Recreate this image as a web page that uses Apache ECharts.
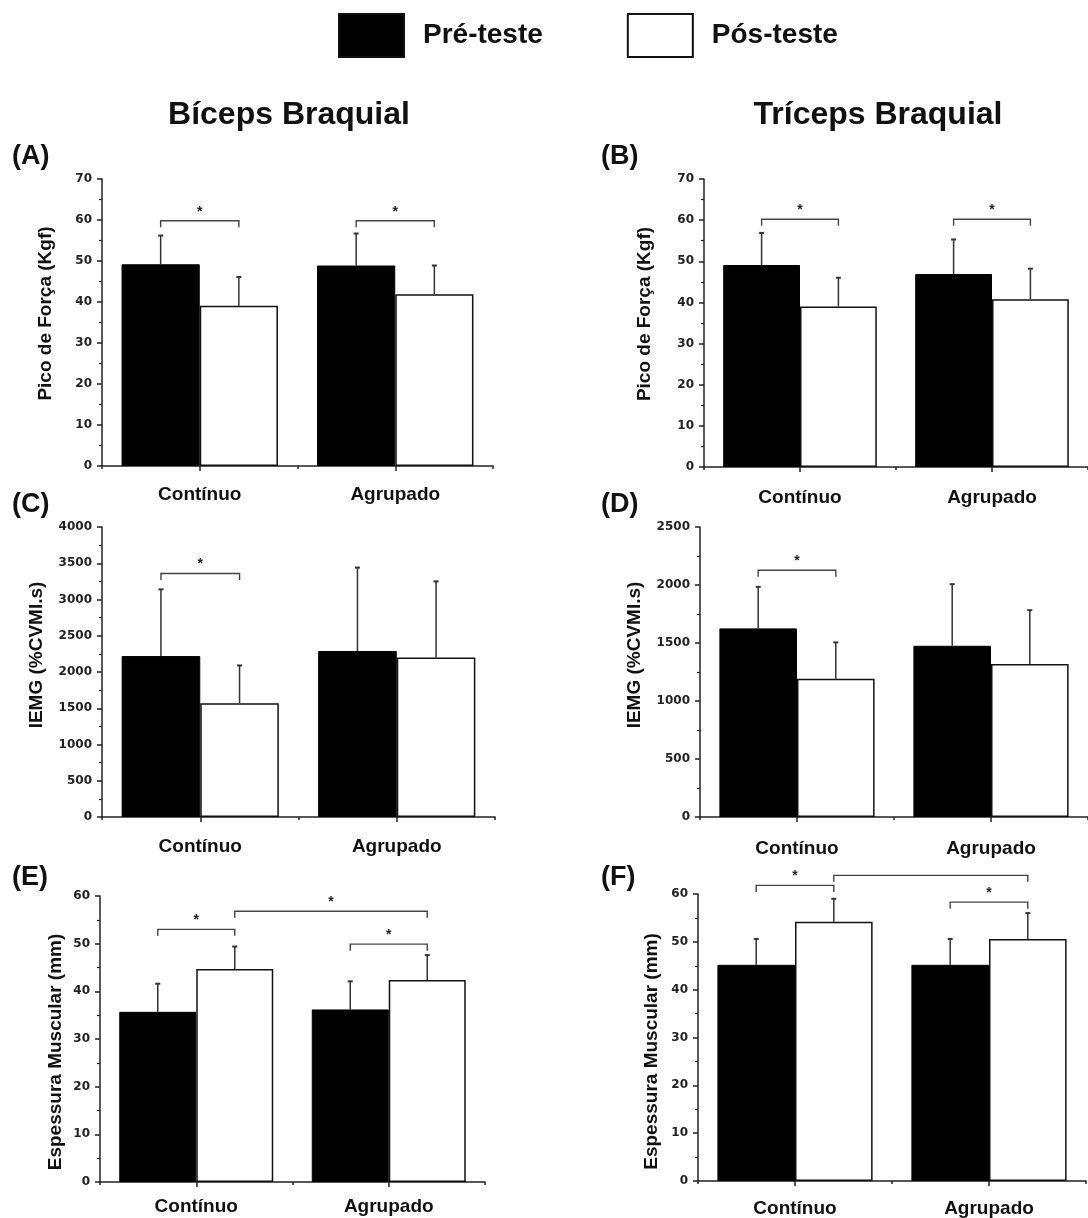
<!DOCTYPE html>
<html>
<head>
<meta charset="utf-8">
<script src="https://cdn.jsdelivr.net/npm/echarts@6/dist/echarts.min.js"></script>
<style>
html, body { margin: 0; padding: 0; background: #fff; }
#chart { width: 1088px; height: 1218px; }
</style>
</head>
<body>
<div id="chart"></div>
<script>
// ---------- data ----------
const categories = ['Contínuo', 'Agrupado'];
const seriesNames = ['Pré-teste', 'Pós-teste'];
const columnTitles = ['Bíceps Braquial', 'Tríceps Braquial'];
const panelLabels = ['(A)', '(B)', '(C)', '(D)', '(E)', '(F)'];
const yAxisNames = ['Pico de Força (Kgf)', 'Pico de Força (Kgf)', 'IEMG (%CVMI.s)', 'IEMG (%CVMI.s)', 'Espessura Muscular (mm)', 'Espessura Muscular (mm)'];
const yMax = [70, 70, 4000, 2500, 60, 60];
const yInterval = [10, 10, 500, 500, 10, 10];

// means and upper SD per panel: [Contínuo, Agrupado]
const preA = [49.2, 48.9], preErrA = [7.0, 7.8], postA = [39.1, 41.9], postErrA = [7.0, 7.0];
const preB = [49.1, 46.9], preErrB = [7.8, 8.4], postB = [39.0, 40.8], postErrB = [7.0, 7.4];
const preC = [2220, 2290], preErrC = [920, 1150], postC = [1570, 2200], postErrC = [520, 1050];
const preD = [1626, 1476], preErrD = [358, 531], postD = [1192, 1319], postErrD = [313, 464];
const preE = [35.7, 36.2], preErrE = [5.9, 5.9], postE = [44.7, 42.4], postErrE = [4.7, 5.2];
const preF = [45.2, 45.2], preErrF = [5.4, 5.4], postF = [54.2, 50.6], postErrF = [4.8, 5.4];

// significance brackets: [catFrom, seriesFrom, catTo, seriesTo, level, showStar]
const bracketsA = [[0, 0, 0, 1, 59.8, 1], [1, 0, 1, 1, 59.8, 1]];
const bracketsB = [[0, 0, 0, 1, 60.2, 1], [1, 0, 1, 1, 60.2, 1]];
const bracketsC = [[0, 0, 0, 1, 3358, 1]];
const bracketsD = [[0, 0, 0, 1, 2127, 1]];
const bracketsE = [[0, 0, 0, 1, 53.0, 1], [0, 1, 1, 1, 56.8, 1], [1, 0, 1, 1, 49.9, 1]];
const bracketsF = [[0, 0, 0, 1, 61.8, 1], [0, 1, 1, 1, 63.9, 0], [1, 0, 1, 1, 58.3, 1]];

const panels = [
  { pre: preA, preErr: preErrA, post: postA, postErr: postErrA, brackets: bracketsA },
  { pre: preB, preErr: preErrB, post: postB, postErr: postErrB, brackets: bracketsB },
  { pre: preC, preErr: preErrC, post: postC, postErr: postErrC, brackets: bracketsC },
  { pre: preD, preErr: preErrD, post: postD, postErr: postErrD, brackets: bracketsD },
  { pre: preE, preErr: preErrE, post: postE, postErr: postErrE, brackets: bracketsE },
  { pre: preF, preErr: preErrF, post: postF, postErr: postErrF, brackets: bracketsF }
];

// ---------- layout / style ----------
const grids = [
  { left: 102, top: 179, width: 391, height: 287 },
  { left: 704, top: 179, width: 388, height: 288 },
  { left: 102, top: 527, width: 393, height: 290 },
  { left: 700, top: 527, width: 393, height: 290 },
  { left: 100, top: 896, width: 385, height: 286 },
  { left: 698, top: 894, width: 388, height: 288 }
];
const xLabelMargin = [19, 21, 20, 22, 15, 18];
const yNameGap = [47, 50, 56, 56, 35, 37];
const yNamePad = [[0, 0, 0, 18], [0, 0, 0, 18], [0, 0, 0, 34], [0, 0, 0, 34], [0, 26, 0, 0], [0, 28, 0, 0]];
const labelPos = [[12, 157], [601, 157], [12, 505], [601, 505], [12, 878], [601, 878]];
const titlePos = [[289, 115], [878, 115]];

const BAR_OFF = 0.2; // bar centre offset as a fraction of the band (barGap 0, barCategoryGap 20%)
const AXIS_COLOR = '#222';
const FONT = 'Liberation Sans, Arial, sans-serif';

const gridOpt = [], xAxisOpt = [], yAxisOpt = [], seriesOpt = [];

panels.forEach((p, i) => {
  gridOpt.push(Object.assign({ containLabel: false }, grids[i]));
  xAxisOpt.push({
    type: 'category', gridIndex: i, data: categories, position: 'bottom',
    axisLine: { show: true, lineStyle: { color: AXIS_COLOR, width: 1.5 } },
    axisTick: { show: true, length: 3, lineStyle: { color: AXIS_COLOR, width: 1.5 } },
    axisLabel: { margin: xLabelMargin[i], fontSize: 19, fontWeight: 'bold', color: '#111', fontFamily: FONT },
    splitLine: { show: false }
  });
  xAxisOpt.push({
    type: 'category', gridIndex: i, data: categories, position: 'bottom',
    axisLine: { show: false },
    axisTick: { show: true, alignWithLabel: true, length: 5, lineStyle: { color: AXIS_COLOR, width: 1.5 } },
    axisLabel: { show: false },
    splitLine: { show: false }
  });
  yAxisOpt.push({
    type: 'value', gridIndex: i, min: 0, max: yMax[i], interval: yInterval[i],
    name: yAxisNames[i], nameLocation: 'middle', nameRotate: 90, nameGap: yNameGap[i],
    nameTextStyle: { fontSize: 19, fontWeight: 'bold', color: '#111', fontFamily: FONT, padding: yNamePad[i] },
    axisLine: { show: true, lineStyle: { color: AXIS_COLOR, width: 1.5 } },
    axisTick: { show: true, length: 5, lineStyle: { color: AXIS_COLOR, width: 1.5 } },
    minorTick: { show: true, splitNumber: 2, length: 3, lineStyle: { color: AXIS_COLOR, width: 1.2 } },
    axisLabel: { margin: 10, fontSize: 12, fontWeight: 'bold', color: '#222', fontFamily: 'DejaVu Sans, sans-serif',
      formatter: function (v) { return String(v); } },
    splitLine: { show: false }
  });

  seriesOpt.push({
    name: seriesNames[0], type: 'bar', xAxisIndex: 2 * i, yAxisIndex: i,
    data: p.pre, barGap: '0%', barCategoryGap: '20%',
    itemStyle: { color: '#000', borderColor: '#000', borderWidth: 1 }
  });
  seriesOpt.push({
    name: seriesNames[1], type: 'bar', xAxisIndex: 2 * i, yAxisIndex: i,
    data: p.post, barGap: '0%', barCategoryGap: '20%',
    itemStyle: { color: '#fff', borderColor: '#111', borderWidth: 1.5 }
  });

  // error bars (upper whisker only)
  [[p.pre, p.preErr, -BAR_OFF], [p.post, p.postErr, BAR_OFF]].forEach(([m, e, off]) => {
    seriesOpt.push({
      type: 'custom', xAxisIndex: 2 * i, yAxisIndex: i, z: 5, clip: false, silent: true,
      data: categories.map((c, k) => [k, m[k], e[k]]),
      encode: { x: 0, y: 1 },
      renderItem: function (params, api) {
        const cat = api.value(0), mean = api.value(1), err = api.value(2);
        const band = api.size([1, 0])[0];
        const b = api.coord([cat, mean]);
        const t = api.coord([cat, mean + err]);
        const x = b[0] + off * band;
        return {
          type: 'group', children: [
            { type: 'line', shape: { x1: x, y1: b[1], x2: x, y2: t[1] }, style: { stroke: '#333', lineWidth: 1.5 } },
            { type: 'line', shape: { x1: x - 2.5, y1: t[1], x2: x + 2.5, y2: t[1] }, style: { stroke: '#333', lineWidth: 2 } }
          ]
        };
      }
    });
  });

  // significance brackets
  seriesOpt.push({
    type: 'custom', xAxisIndex: 2 * i, yAxisIndex: i, z: 6, clip: false, silent: true,
    data: p.brackets,
    encode: { x: 0, y: 4 },
    renderItem: function (params, api) {
      const c1 = api.value(0), s1 = api.value(1), c2 = api.value(2), s2 = api.value(3);
      const lvl = api.value(4), star = api.value(5);
      const band = api.size([1, 0])[0];
      const p1 = api.coord([c1, lvl]);
      const p2 = api.coord([c2, lvl]);
      const x1 = p1[0] + (s1 ? BAR_OFF : -BAR_OFF) * band;
      const x2 = p2[0] + (s2 ? BAR_OFF : -BAR_OFF) * band;
      const y = p1[1];
      const drop = 6.5;
      const children = [{
        type: 'polyline',
        shape: { points: [[x1, y + drop], [x1, y], [x2, y], [x2, y + drop]] },
        style: { stroke: '#444', lineWidth: 1.4, fill: null }
      }];
      if (star) {
        children.push({
          type: 'text',
          style: { text: '*', x: (x1 + x2) / 2, y: y - 9, align: 'center', verticalAlign: 'middle',
            font: 'bold 14px ' + FONT, fill: '#222' }
        });
      }
      return { type: 'group', children: children };
    }
  });
});

const graphics = [];
columnTitles.forEach((t, k) => {
  graphics.push({ type: 'text', style: { text: t, x: titlePos[k][0], y: titlePos[k][1],
    align: 'center', verticalAlign: 'middle', font: 'bold 32px ' + FONT, fill: '#111' } });
});
panelLabels.forEach((t, k) => {
  graphics.push({ type: 'text', style: { text: t, x: labelPos[k][0], y: labelPos[k][1],
    align: 'left', verticalAlign: 'middle', font: 'bold 27px ' + FONT, fill: '#111' } });
});

const chart = echarts.init(document.getElementById('chart'), null, { renderer: 'canvas' });
chart.setOption({
  backgroundColor: '#fff',
  animation: false,
  textStyle: { fontFamily: FONT },
  legend: {
    data: seriesNames, left: 338, top: 13, orient: 'horizontal', padding: 0,
    icon: 'rect', itemWidth: 65, itemHeight: 43, itemGap: 84,
    itemStyle: { borderColor: '#111', borderWidth: 2 },
    textStyle: { fontSize: 28, fontWeight: 'bold', color: '#111', fontFamily: FONT, padding: [0, 0, 0, 14] },
    selectedMode: false
  },
  grid: gridOpt,
  xAxis: xAxisOpt,
  yAxis: yAxisOpt,
  series: seriesOpt,
  graphic: graphics
});
</script>
</body>
</html>
